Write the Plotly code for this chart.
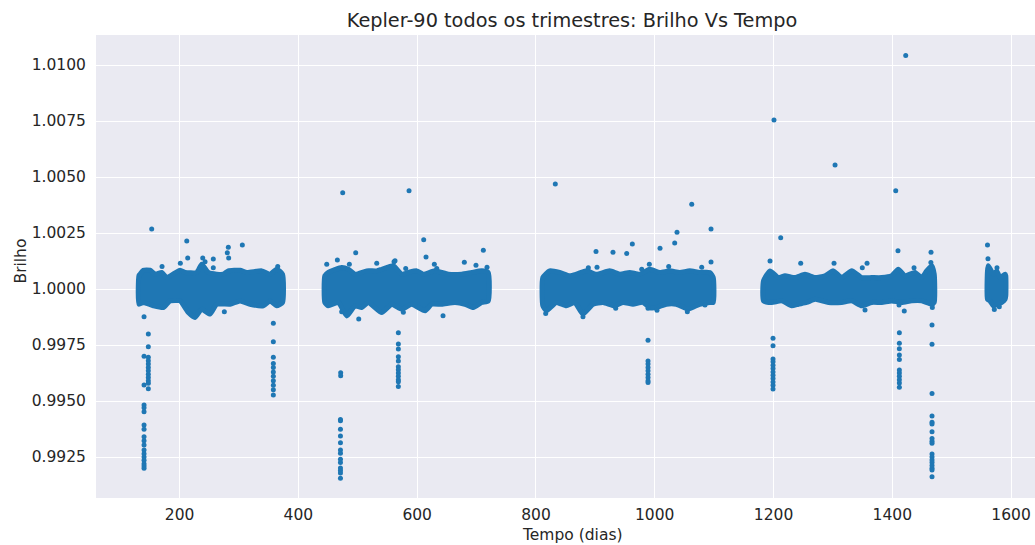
import plotly.graph_objects as go

# ---------------- data ----------------
title = "Kepler-90 todos os trimestres: Brilho Vs Tempo"
x_label = "Tempo (dias)"
y_label = "Brilho"
x_ticks = [200, 400, 600, 800, 1000, 1200, 1400, 1600]
y_ticks = [0.9925, 0.9950, 0.9975, 1.0000, 1.0025, 1.0050, 1.0075, 1.0100]

# Dense bulk of the light curve per observing block: upper and lower envelope
seg1_top_t = [131.5, 133.3, 138.9, 150.2, 158.6, 169.9, 178.3, 200.7, 209.1, 228.8, 237.2, 248.3, 262.5, 273.6, 282.0, 301.7, 313.0, 338.2, 352.2, 363.5, 373.3]
seg1_top_v = [1.00060, 1.00066, 1.00084, 1.00084, 1.00066, 1.00074, 1.00051, 1.00084, 1.00074, 1.00074, 1.00111, 1.00074, 1.00066, 1.00066, 1.00081, 1.00084, 1.00074, 1.00081, 1.00066, 1.00088, 1.00066]
seg1_bot_t = [131.5, 138.9, 155.7, 172.6, 183.8, 200.7, 214.7, 225.9, 237.2, 251.2, 262.5, 284.9, 301.7, 318.5, 340.9, 352.2, 363.5, 373.3]
seg1_bot_v = [0.99932, 0.99940, 0.99925, 0.99917, 0.99947, 0.99947, 0.99895, 0.99873, 0.99910, 0.99888, 0.99932, 0.99932, 0.99947, 0.99932, 0.99925, 0.99947, 0.99925, 0.99940]

seg2_top_t = [444.5, 450.4, 472.9, 484.1, 495.3, 515.0, 531.9, 540.3, 559.8, 574.0, 585.1, 599.2, 610.3, 630.0, 652.4, 675.0, 691.8, 708.7, 719.6]
seg2_top_v = [1.00059, 1.00074, 1.00096, 1.00088, 1.00066, 1.00081, 1.00081, 1.00088, 1.00104, 1.00066, 1.00074, 1.00081, 1.00066, 1.00081, 1.00066, 1.00066, 1.00074, 1.00081, 1.00074]
seg2_bot_t = [444.5, 450.4, 467.2, 481.4, 495.3, 506.6, 517.7, 540.3, 557.1, 574.0, 590.8, 613.2, 624.5, 641.3, 663.7, 680.5, 694.5, 708.7, 719.6]
seg2_bot_v = [0.99940, 0.99925, 0.99940, 0.99880, 0.99925, 0.99917, 0.99940, 0.99895, 0.99932, 0.99910, 0.99932, 0.99903, 0.99932, 0.99932, 0.99940, 0.99932, 0.99917, 0.99940, 0.99947]

seg3_top_t = [811.6, 823.2, 840.0, 856.8, 868.0, 884.8, 901.6, 924.2, 941.0, 957.9, 974.7, 991.5, 1008.4, 1025.2, 1042.1, 1058.9, 1075.7, 1092.6, 1098.5]
seg3_top_v = [1.00051, 1.00081, 1.00074, 1.00059, 1.00066, 1.00081, 1.00066, 1.00081, 1.00066, 1.00074, 1.00066, 1.00088, 1.00074, 1.00081, 1.00074, 1.00081, 1.00074, 1.00074, 1.00051]
seg3_bot_t = [811.6, 817.5, 834.3, 851.1, 865.3, 879.2, 896.1, 912.9, 932.6, 946.6, 963.4, 980.3, 991.5, 1002.7, 1019.5, 1036.3, 1056.0, 1075.7, 1092.6, 1098.5]
seg3_bot_v = [0.99925, 0.99903, 0.99940, 0.99925, 0.99940, 0.99888, 0.99932, 0.99940, 0.99925, 0.99940, 0.99932, 0.99940, 0.99917, 0.99917, 0.99932, 0.99932, 0.99910, 0.99932, 0.99940, 0.99940]

seg4_top_t = [1183.2, 1194.1, 1208.1, 1219.4, 1236.2, 1253.0, 1269.9, 1286.7, 1300.7, 1314.8, 1331.7, 1348.5, 1365.3, 1382.2, 1399.0, 1410.1, 1421.4, 1438.2, 1449.5, 1457.9, 1466.4, 1470.6]
seg4_top_v = [1.00037, 1.00081, 1.00051, 1.00059, 1.00051, 1.00066, 1.00051, 1.00059, 1.00081, 1.00051, 1.00081, 1.00051, 1.00051, 1.00051, 1.00059, 1.00088, 1.00059, 1.00074, 1.00051, 1.00081, 1.00104, 1.00066]
seg4_bot_t = [1183.2, 1197.0, 1213.8, 1230.6, 1241.8, 1255.9, 1269.9, 1292.3, 1314.8, 1331.7, 1348.5, 1365.3, 1382.2, 1399.0, 1415.8, 1432.7, 1449.5, 1466.4, 1470.6]
seg4_bot_v = [0.99947, 0.99940, 0.99947, 0.99925, 0.99932, 0.99940, 0.99954, 0.99940, 0.99940, 0.99947, 0.99925, 0.99940, 0.99940, 0.99947, 0.99940, 0.99947, 0.99947, 0.99932, 0.99940]

seg5_top_t = [1560.3, 1561.7, 1570.1, 1575.8, 1581.4, 1589.8, 1591.1]
seg5_top_v = [1.00081, 1.00104, 1.00066, 1.00081, 1.00051, 1.00066, 1.00059]
seg5_bot_t = [1560.3, 1564.5, 1570.1, 1578.5, 1584.2, 1589.8, 1591.1]
seg5_bot_v = [0.99954, 0.99947, 0.99925, 0.99932, 0.99940, 0.99954, 0.99970]

# Individual scattered points (flares / noise)
outlier_t = [
    153.0, 212.0, 213.6, 170.4, 201.2, 238.9, 242.8, 256.7, 282.0, 280.3, 282.6, 305.6, 365.2, 256.7,
    140.1, 275.3,
    447.7, 465.6, 496.5, 485.8, 531.9, 561.0, 474.6, 586.3, 611.0, 614.9, 711.4, 679.4, 699.0, 628.9, 633.0, 717.6, 562.7, 580.7,
    472.9, 501.6, 576.7, 643.5,
    832.6, 1062.3, 1037.5, 1094.8, 1033.6, 1008.9, 962.3, 952.8, 929.7, 901.1, 1094.8, 990.9, 902.8, 1023.5, 1079.1, 978.1, 888.2,
    816.4, 879.2, 934.3, 988.7, 1003.8, 1054.9, 1084.6,
    1422.6, 1200.8, 1303.6, 1405.8, 1212.1, 1409.6, 1465.2, 1465.0, 1194.1, 1245.8, 1301.9, 1357.5, 1349.5, 1436.6,
    1420.2, 1354.1, 1411.3, 1467.4,
    1560.3, 1561.1, 1576.3, 1571.8, 1580.2,
]
outlier_v = [
    1.00268, 1.00214, 1.00138, 1.00100, 1.00115, 1.00138, 1.00122, 1.00134, 1.00186, 1.00162, 1.00138, 1.00196, 1.00100, 1.00095,
    0.99876, 0.99899,
    1.00110, 1.00129, 1.00162, 1.00110, 1.00115, 1.00122, 1.00430, 1.00439, 1.00220, 1.00143, 1.00173, 1.00119, 1.00106, 1.00110, 1.00092, 1.00097, 1.00126, 1.00092,
    0.99899, 0.99866, 0.99896, 0.99881,
    1.00469, 1.00378, 1.00253, 1.00268, 1.00205, 1.00182, 1.00201, 1.00158, 1.00164, 1.00168, 1.00121, 1.00110, 1.00097, 1.00100, 1.00097, 1.00088, 1.00095,
    0.99891, 0.99876, 0.99914, 0.99914, 0.99905, 0.99899, 0.99929,
    1.01042, 1.00754, 1.00554, 1.00439, 1.00229, 1.00171, 1.00164, 1.00118, 1.00125, 1.00115, 1.00115, 1.00115, 1.00095, 1.00095,
    0.99902, 0.99906, 0.99929, 0.99917,
    1.00196, 1.00135, 1.00095, 0.99909, 0.99921,
]

# Transit points (dips below the bulk)
transit_t = (
    [147.3] * 12 + [140.1] * 17 + [357.8] * 11 + [471.2] * 2 + [470.8] * 13 +
    [568.3] * 12 + [988.7] * 9 + [1199.2] * 12 + [1411.9] * 11 + [1466.9] * 18
)
transit_v = [
    0.99799, 0.99742, 0.99695, 0.99680, 0.99665, 0.99650, 0.99635, 0.99620, 0.99605, 0.99590, 0.99579, 0.99555,
    0.99700, 0.99571, 0.99482, 0.99470, 0.99452, 0.99393, 0.99374, 0.99341, 0.99323, 0.99304, 0.99281, 0.99265, 0.99250, 0.99235, 0.99220, 0.99210, 0.99200,
    0.99847, 0.99765, 0.99695, 0.99668, 0.99650, 0.99630, 0.99610, 0.99590, 0.99570, 0.99550, 0.99527,
    0.99626, 0.99613,
    0.99418, 0.99412, 0.99374, 0.99344, 0.99314, 0.99281, 0.99267, 0.99240, 0.99225, 0.99201, 0.99190, 0.99179, 0.99155,
    0.99805, 0.99754, 0.99732, 0.99698, 0.99679, 0.99653, 0.99640, 0.99625, 0.99610, 0.99595, 0.99586, 0.99565,
    0.99771, 0.99679, 0.99665, 0.99650, 0.99635, 0.99620, 0.99605, 0.99590, 0.99583,
    0.99780, 0.99747, 0.99688, 0.99675, 0.99660, 0.99645, 0.99630, 0.99615, 0.99600, 0.99585, 0.99570, 0.99554,
    0.99805, 0.99758, 0.99733, 0.99705, 0.99685, 0.99638, 0.99625, 0.99610, 0.99595, 0.99580, 0.99561,
    0.99839, 0.99753, 0.99533, 0.99433, 0.99405, 0.99397, 0.99363, 0.99333, 0.99320, 0.99311, 0.99263, 0.99250, 0.99237, 0.99225, 0.99212, 0.99200, 0.99192, 0.99162,
]

# ---------------- figure ----------------
BLUE = "#1f77b4"
TEXT = "#262626"
FONT = "DejaVu Sans"

segments = [
    (seg1_top_t, seg1_top_v, seg1_bot_t, seg1_bot_v),
    (seg2_top_t, seg2_top_v, seg2_bot_t, seg2_bot_v),
    (seg3_top_t, seg3_top_v, seg3_bot_t, seg3_bot_v),
    (seg4_top_t, seg4_top_v, seg4_bot_t, seg4_bot_v),
    (seg5_top_t, seg5_top_v, seg5_bot_t, seg5_bot_v),
]

fig = go.Figure()
for tt, tv, bt, bv in segments:
    xs = list(tt) + list(bt)[::-1] + [tt[0]]
    ys = list(tv) + list(bv)[::-1] + [tv[0]]
    fig.add_trace(go.Scatter(
        x=xs, y=ys, mode="lines", fill="toself", fillcolor=BLUE,
        line=dict(color=BLUE, width=5, shape="spline", smoothing=0.5),
        hoverinfo="skip", showlegend=False,
    ))

fig.add_trace(go.Scatter(
    x=outlier_t + transit_t, y=outlier_v + transit_v, mode="markers",
    marker=dict(color=BLUE, size=5, line=dict(width=0)), showlegend=False,
))

# the axes run off the right edge of the window, as in the reference
W, H = 1035, 545
L, T, B = 96, 35, 47
fig.update_layout(
    width=W, height=H,
    margin=dict(l=L, r=0, t=T, b=B, pad=0, autoexpand=False),
    paper_bgcolor="white", plot_bgcolor="#EAEAF2",
    font=dict(family=FONT, color=TEXT, size=15),
    title=dict(text=title, x=572 / W, xref="container", xanchor="center",
               y=1 - 20 / H, yref="container", yanchor="middle",
               font=dict(family=FONT, size=19.3, color=TEXT)),
    showlegend=False,
    annotations=[
        dict(text=x_label, xref="paper", yref="paper", x=(572 - L) / (W - L), y=0,
             yshift=-37, xanchor="center", yanchor="middle", showarrow=False,
             font=dict(family=FONT, size=15.5, color=TEXT)),
        dict(text=y_label, xref="paper", yref="paper", x=0, y=0.5 + 5 / (H - T - B),
             xshift=-76, xanchor="center", yanchor="middle", textangle=-90, showarrow=False,
             font=dict(family=FONT, size=15.5, color=TEXT)),
    ],
)
fig.update_xaxes(
    range=[59.2, 1640.3], tickvals=x_ticks, ticktext=[str(v) for v in x_ticks],
    automargin=False,
    showgrid=True, gridcolor="white", gridwidth=1.2, zeroline=False, showline=False,
    ticks="outside", ticklen=2, tickcolor="rgba(0,0,0,0)",
    tickfont=dict(size=15.5, color=TEXT, family=FONT),
)
fig.update_yaxes(
    range=[0.99067, 1.01134], tickvals=y_ticks, ticktext=[f"{v:.4f}" for v in y_ticks],
    automargin=False,
    showgrid=True, gridcolor="white", gridwidth=1.2, zeroline=False, showline=False,
    ticks="outside", ticklen=6, tickcolor="rgba(0,0,0,0)",
    tickfont=dict(size=15.5, color=TEXT, family=FONT),
)

# remove the page's default body margin so the figure fills the window exactly
fig.write_html(
    "out.html",
    config={"displayModeBar": False},
    post_script="document.body.style.margin='0';document.body.style.overflow='hidden';",
)
